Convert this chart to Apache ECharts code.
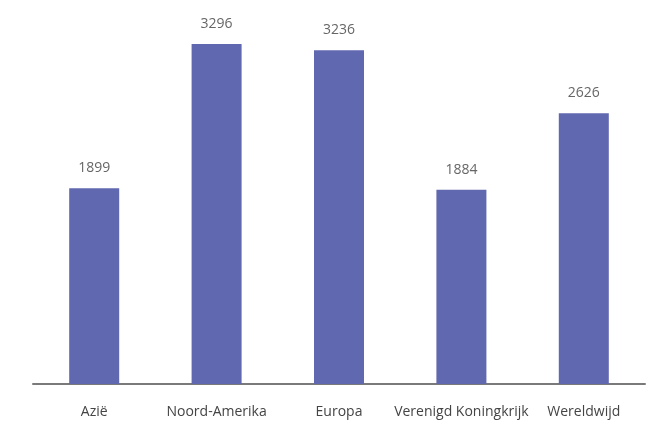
<!DOCTYPE html>
<html>
<head>
<meta charset="utf-8">
<script src="https://cdn.jsdelivr.net/npm/echarts@6/dist/echarts.min.js"></script>
<style>
  html, body { margin: 0; padding: 0; background: #ffffff; }
  #chart { width: 662px; height: 422px; }
</style>
</head>
<body>
<div id="chart"></div>
<script>
// Regio's en waarden per regio
const categories = ['Azië', 'Noord-Amerika', 'Europa', 'Verenigd Koningkrijk', 'Wereldwijd'];
const values = [1899, 3296, 3236, 1884, 2626];

const chart = echarts.init(document.getElementById('chart'));
chart.setOption({
  animation: false,
  textStyle: { fontFamily: '"Open Sans", sans-serif' },
  grid: { left: 33, right: 17, top: 23, bottom: 38 },
  xAxis: {
    type: 'category',
    data: categories,
    axisLine: { lineStyle: { color: '#7a7a7a', width: 2 } },
    axisTick: { show: false },
    axisLabel: { color: '#444', fontSize: 14, margin: 21, interval: 0 }
  },
  yAxis: {
    type: 'value',
    min: 0,
    max: 3500,
    show: false,
    splitLine: { show: false }
  },
  series: [{
    type: 'bar',
    data: values,
    barWidth: 50,
    itemStyle: { color: '#6068b0' },
    label: {
      show: true,
      position: 'top',
      distance: 13,
      color: '#666',
      fontSize: 14
    }
  }]
});
</script>
</body>
</html>
